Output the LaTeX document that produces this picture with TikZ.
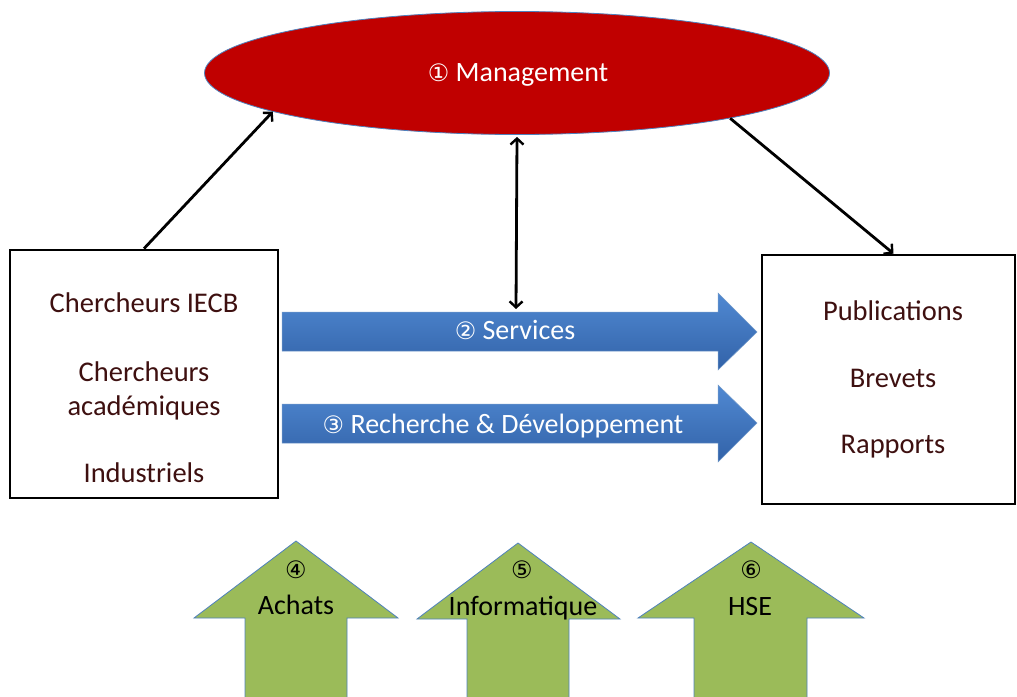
\documentclass[tikz,border=0pt]{standalone}
\usepackage{fontspec}
\setmainfont{Carlito}
\newfontfamily\circfont{DejaVu Sans}
\usetikzlibrary{shapes.geometric,arrows.meta}
\definecolor{mgmtred}{RGB}{192,0,0}
\definecolor{edgeblue}{RGB}{79,129,189}
\definecolor{bluetop}{RGB}{80,137,210}
\definecolor{bluebot}{RGB}{50,98,168}
\definecolor{greenfill}{RGB}{155,187,89}
\definecolor{boxtext}{RGB}{62,16,16}
\newcommand{\dg}[1]{{\circfont\fontsize{24}{28}\selectfont #1}}
\tikzset{
  bigfont/.style={font=\fontsize{28.5}{34}\selectfont},
  midfont/.style={font=\fontsize{28}{34}\selectfont},
  digitfont/.style={font=\fontsize{24}{28}\selectfont\circfont},
  stakebox/.style={draw=black, line width=2.8pt, fill=white, inner sep=0pt},
  boxlabel/.style={bigfont, text=boxtext, align=center, inner sep=0pt, anchor=base},
  flowarrow/.style={top color=bluetop, bottom color=bluebot, draw=edgeblue!80!white, line width=0.5pt},
  supportarrow/.style={fill=greenfill, draw=edgeblue, line width=0.8pt},
  barb/.tip={Straight Barb[length=6pt,width=13pt,line width=2.4pt]},
  link/.style={draw=black, line width=2.8pt, -barb},
  dlink/.style={draw=black, line width=2.8pt, barb-barb},
  arrowlabel/.style={midfont, text=white, inner sep=0pt, anchor=base},
  greenlabel/.style={midfont, text=black, inner sep=0pt, anchor=base},
  greendigit/.style={digitfont, text=black, inner sep=0pt, anchor=base}
}
\begin{document}
\begin{tikzpicture}[x=1pt, y=-1pt]
\useasboundingbox (0,0) rectangle (1017,696);

% Management ellipse
\node[ellipse, fill=mgmtred, draw=edgeblue, line width=0.8pt, minimum width=625pt, minimum height=123pt, inner sep=0pt] (mgmt) at (517,73) {};
\node[arrowlabel] (mgmtlabel) at (518,81) {\dg{①} Management};

% Boxes
\node[stakebox, minimum width=268pt, minimum height=248pt] (src) at (144,374) {};
\node[boxlabel] (srclabel) at (144,482) {Chercheurs IECB\\[35pt]Chercheurs\\académiques\\[33pt]Industriels};

\node[stakebox, minimum width=253pt, minimum height=249pt] (dst) at (888.5,379.5) {};
\node[boxlabel] (dstlabel) at (893,453) {Publications\\[33pt]Brevets\\[32pt]Rapports};

% Blue flow arrows
\path[flowarrow] (282,312) -- (718,312) -- (718,293) -- (757,332) -- (718,370) -- (718,351) -- (282,351) -- cycle;
\coordinate (svctop) at (516,309);
\node[arrowlabel] (svclabel) at (515,339) {\dg{②} Services};

\path[flowarrow] (282,404) -- (718,404) -- (718,385) -- (757,423) -- (718,462) -- (718,443) -- (282,443) -- cycle;
\node[arrowlabel] (rdlabel) at (503,433) {\dg{③} Recherche \& Développement};

% Green support arrows
\path[supportarrow] (296,541) -- (398,618) -- (347,618) -- (347,700) -- (245,700) -- (245,618) -- (194,618) -- cycle;
\node[greendigit] (d4) at (296,578) {④};
\node[greenlabel] (achats) at (296,614) {Achats};

\path[supportarrow] (518,543) -- (620,619) -- (569,619) -- (569,700) -- (467,700) -- (467,619) -- (417,619) -- cycle;
\node[greendigit] (d5) at (522,578) {⑤};
\node[greenlabel] (info) at (523,615) {Informatique};

\path[supportarrow] (751,542) -- (864,618) -- (807,618) -- (807,700) -- (694,700) -- (694,618) -- (638,618) -- cycle;
\node[greendigit] (d6) at (751,578) {⑥};
\node[greenlabel] (hse) at (750,615) {HSE};

% Connectors
\draw[link] (src.north) -- (mgmt.189.5);
\draw[link] (mgmt.348.7) -- ([xshift=5pt]dst.north);
\draw[dlink] ([yshift=-2pt]mgmt.south) -- (svctop);
\end{tikzpicture}
\end{document}
